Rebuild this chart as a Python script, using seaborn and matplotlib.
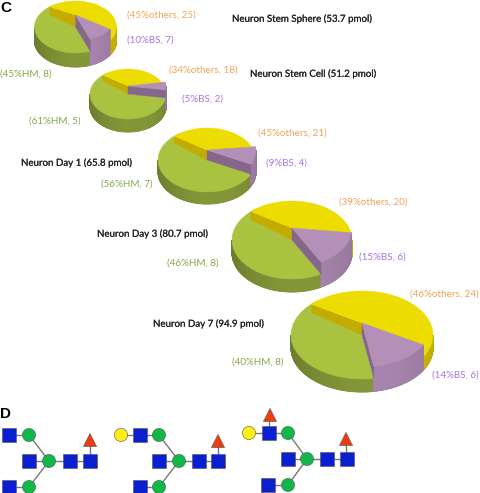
import numpy as np
import pandas as pd
import matplotlib
matplotlib.use("Agg")
import matplotlib.pyplot as plt
import matplotlib.patheffects as pe
import seaborn as sns

# ---------- data ----------
pie_names = ["Neuron Stem Sphere (53.7 pmol)", "Neuron Stem Cell (51.2 pmol)",
             "Neuron Day 1 (65.8 pmol)", "Neuron Day 3 (80.7 pmol)", "Neuron Day 7 (94.9 pmol)"]
others_lab = ["(45%others, 25)", "(34%others, 18)", "(45%others, 21)", "(39%others, 20)", "(46%others, 24)"]
bs_lab = ["(10%BS, 7)", "(5%BS, 2)", "(9%BS, 4)", "(15%BS, 6)", "(14%BS, 6)"]
hm_lab = ["(45%HM, 8)", "(61%HM, 5)", "(56%HM, 7)", "(46%HM, 8)", "(40%HM, 8)"]
# shares of each pie as drawn (in percent)
hm_share = [45, 61, 56, 46, 40]
bs_share = [10, 5, 9, 15, 14]
others_share = [45, 34, 35, 39, 46]

# ---------- layout (pixels of the 480x493 figure) ----------
# centre x, centre y, radius x, radius y, rim depth, lift of the purple slice, start angle of purple
geom = [(75.5, 27, 41, 26, 14, 12, 33),
        (128, 94, 38, 25, 13, 8, 351),
        (207, 160, 49, 32, 12, 10, 354),
        (292, 240, 60, 39, 13, 12, 7),
        (362, 335, 71, 44, 13, 12, 30)]
title_xy = [(232, 19), (250, 74), (21, 163), (97, 234), (153, 324)]
oth_xy = [(127, 15), (169, 70), (258, 133), (339, 202), (410, 294)]
bs_xy = [(127, 40), (182, 99), (266, 163), (359, 257), (432, 375)]
hm_xy = [(0, 74), (29, 121), (101, 184), (167, 263), (232, 362)]

C_ORANGE, C_VIOLET, C_GREEN = "#f0a455", "#a576e0", "#84a84a"

# glycan schematics
glycan_x = [9, 29, 49, 29, 70, 90, 90, 9, 29,
            121, 140, 159, 159, 179, 199, 218, 218, 140, 159,
            249, 269, 270, 288, 288, 307, 327, 347, 346, 268, 288]
glycan_y = [435, 435, 461, 461, 461, 461, 440, 487, 487,
            435, 435, 435, 461, 461, 461, 461, 441, 487, 487,
            433, 433, 415, 433, 459, 459, 459, 459, 439, 485, 485]
glycan_kind = ["GlcNAc", "Man", "Man", "GlcNAc", "GlcNAc", "GlcNAc", "Fuc", "GlcNAc", "Man",
               "Gal", "GlcNAc", "Man", "GlcNAc", "Man", "GlcNAc", "GlcNAc", "Fuc", "GlcNAc", "Man",
               "Gal", "GlcNAc", "Fuc", "Man", "GlcNAc", "Man", "GlcNAc", "GlcNAc", "Fuc", "GlcNAc", "Man"]
glycan_edges = [(0, 1), (1, 2), (3, 2), (2, 4), (4, 5), (5, 6), (7, 8), (8, 2),
                (9, 10), (10, 11), (11, 13), (12, 13), (13, 14), (14, 15), (15, 16), (17, 18), (18, 13),
                (19, 20), (20, 21), (20, 22), (22, 24), (23, 24), (24, 25), (25, 26), (26, 27), (28, 29), (29, 24)]

sns.set_theme(style="white")
plt.rcParams["font.family"] = ["Lato", "DejaVu Sans"]
fig = plt.figure(figsize=(4.8, 4.93), dpi=100)
ax = fig.add_axes([0, 0, 1, 1])
ax.set_xlim(0, 480)
ax.set_ylim(493, 0)
ax.axis("off")


def arc(c, rx, ry, a0, a1, n=80):
    t = np.radians(np.linspace(a0, a1, n))
    return c[0] + rx * np.cos(t), c[1] + ry * np.sin(t)


def shade(col, f):
    return tuple(np.clip(np.array(matplotlib.colors.to_rgb(col)) * f, 0, 1))


def rim(c, rx, ry, d, a0, a1, col, z):
    """Outer side of a slice for the part of the arc that faces the viewer."""
    lo, hi = a0, a1
    for k in (0, 360):
        s, e = max(lo, k), min(hi, k + 180)
        if e <= s:
            continue
        xs, ys = arc(c, rx, ry, s, e)
        ax.fill(np.r_[xs, xs[::-1]], np.r_[ys, ys[::-1] + d], color=col, lw=0.3, zorder=z)
        for i in range(len(xs) - 1):
            m = np.radians((s + (e - s) * (i + 0.5) / (len(xs) - 1)))
            f = 0.90 + 0.14 * np.sin(m) ** 2 + 0.04 * np.cos(m)
            ax.fill([xs[i], xs[i + 1], xs[i + 1], xs[i]],
                    [ys[i], ys[i + 1], ys[i + 1] + d, ys[i] + d],
                    color=shade(col, f), lw=0.7, zorder=z + 0.01)


def top(apex, xs, ys, col, z):
    ax.fill(np.r_[apex[0], xs], np.r_[apex[1], ys], color=col, lw=0.3, zorder=z)


YEL, YEL_S = "#ecdc00", "#cbb700"
GRN, GRN_S = "#a9c23f", "#7f9136"
PUR, PUR_S, PUR_W = "#b48fb8", "#a07fa6", "#85678a"

for i, (cx, cy, rx, ry, d, r, start) in enumerate(geom):
    c = (cx, cy)
    raised = (cx, cy - r)
    a_bs = start + 3.6 * bs_share[i]
    a_hm = a_bs + 3.6 * hm_share[i]
    a_end = start + 3.6 * (bs_share[i] + hm_share[i] + others_share[i])
    z = 10 * i

    # back yellow slice: outer side, then green slice, then yellow cut wall and top
    rim(c, rx, ry, d, a_hm, a_end, YEL_S, z + 1)
    rim(c, rx, ry, d, a_bs, a_hm, GRN_S, z + 2)
    xs, ys = arc(c, rx, ry, a_bs, a_hm + 8)
    top((cx, cy), xs, ys, GRN, z + 3)
    xs, ys = arc(c, rx, ry, a_hm, a_end)
    ax.fill([xs[0], cx, cx, xs[0]], [ys[0], raised[1], raised[1] + r, ys[0] + 0.65 * r],
            color="#c4ab00", lw=0.3, zorder=z + 4)
    top(raised, xs, ys, YEL, z + 5)

    # raised purple slice reaching down to the common base
    rim(raised, rx, ry, d + r, start, a_bs, PUR_S, z + 6)
    xs, ys = arc(raised, rx, ry, start, a_bs)
    ax.fill([cx, xs[-1], xs[-1], cx], [raised[1], ys[-1], ys[-1] + r, raised[1] + r],
            color=PUR_W, lw=0.3, zorder=z + 7)
    top(raised, xs, ys, PUR, z + 8)

    ax.text(*title_xy[i], pie_names[i], color="#222222", fontsize=7.0, va="center", zorder=100,
            path_effects=[pe.withStroke(linewidth=0.12, foreground="#222222")])
    ax.text(*oth_xy[i], others_lab[i], color=C_ORANGE, fontsize=7.1, va="center", zorder=100)
    ax.text(*bs_xy[i], bs_lab[i], color=C_VIOLET, fontsize=7.1, va="center", zorder=100)
    ax.text(*hm_xy[i], hm_lab[i], color=C_GREEN, fontsize=7.1, va="center", zorder=100)

ax.text(0, 8, "C", fontsize=11, fontweight="bold", family="Liberation Sans", color="black", va="center", zorder=100)
ax.text(0, 414, "D", fontsize=11, fontweight="bold", family="Liberation Sans", color="black", va="center", zorder=100)

for a, b in glycan_edges:
    ax.plot([glycan_x[a], glycan_x[b]], [glycan_y[a], glycan_y[b]], color="#777777", lw=1, zorder=200)

df = pd.DataFrame({"x": glycan_x, "y": glycan_y, "kind": glycan_kind})
sns.scatterplot(data=df, x="x", y="y", hue="kind", style="kind",
                hue_order=["GlcNAc", "Man", "Gal", "Fuc"], style_order=["GlcNAc", "Man", "Gal", "Fuc"],
                palette=["#0a1fd0", "#10b84a", "#ffee10", "#ee3c10"],
                markers=["s", "o", "o", "^"], s=90, edgecolor="#555555", linewidth=0.4,
                legend=False, ax=ax, zorder=300)
ax.set_xlim(0, 480)
ax.set_ylim(493, 0)
ax.axis("off")
fig.savefig("out.png", dpi=100, facecolor="white")
